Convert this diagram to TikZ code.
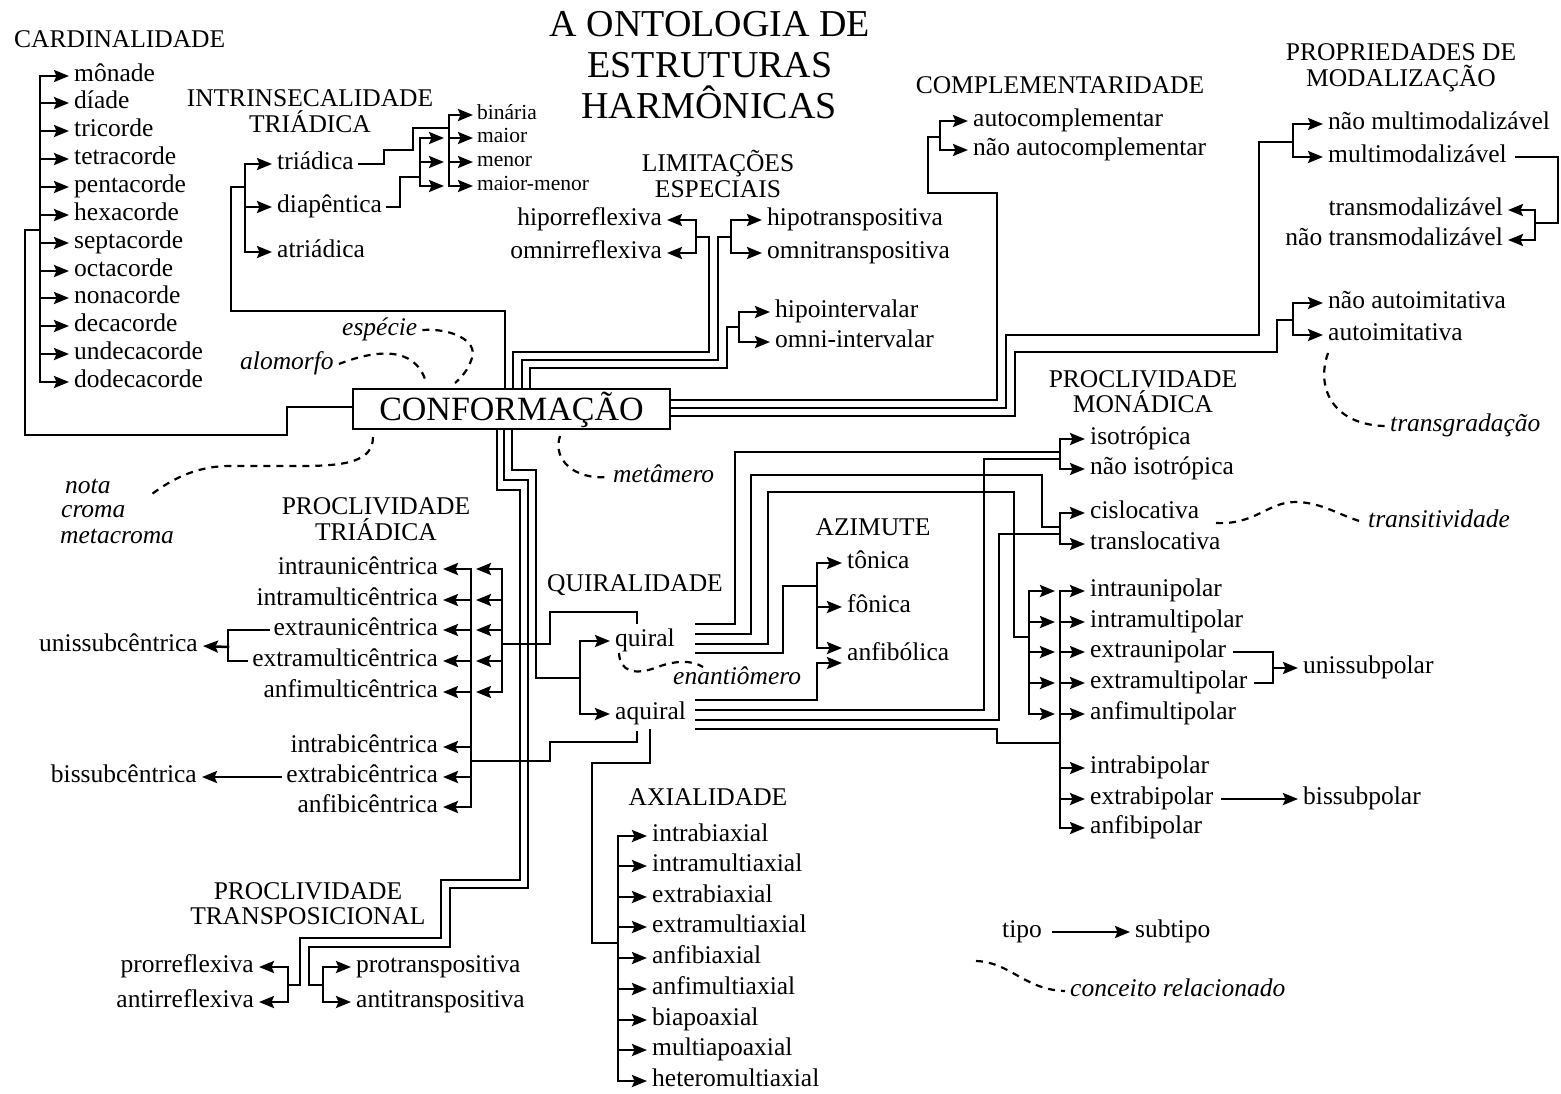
\documentclass[tikz,border=0pt]{standalone}
\usepackage{fontspec}
\setmainfont{Liberation Serif}
\usetikzlibrary{arrows.meta}
\newcommand\fbody{\fontsize{25.5}{30}\selectfont}
\newcommand\fsmal{\fontsize{21.5}{25}\selectfont}
\newcommand\fttl{\fontsize{38}{41}\selectfont}
\newcommand\fconf{\fontsize{34}{40}\selectfont}
\begin{document}
\begin{tikzpicture}[x=1pt,y=-1pt,
 ln/.style={line width=2.5pt,line cap=rect},
 arr/.style={line width=2.5pt,line cap=rect,-{Stealth[length=15pt,width=12pt,inset=2.5pt]}},
 dsh/.style={line width=2.2pt,dash pattern=on 7pt off 6pt,line cap=butt},
 lbl/.style={font=\fbody,inner xsep=5pt,inner ysep=0pt,text height=11.7pt,text depth=0pt},
 lw/.style={lbl,anchor=west},
 le/.style={lbl,anchor=east},
 sm/.style={font=\fsmal,inner xsep=4pt,inner ysep=0pt,text height=9.9pt,text depth=0pt,anchor=west},
 hdr/.style={font=\fbody,inner sep=0pt,anchor=base},
 it/.style={font=\fbody\itshape,inner xsep=5pt,inner ysep=0pt,text height=11.7pt,text depth=0pt,anchor=west},
]
\fill[white] (0,0) rectangle (1561,1093);
\useasboundingbox (0,0) rectangle (1561,1093);

% title
\node[font=\fttl,inner sep=0pt,anchor=base] (ttl1) at (710,36.6) {A ONTOLOGIA DE};
\node[font=\fttl,inner sep=0pt,anchor=base] (ttl2) at (710,77.6) {ESTRUTURAS};
\node[font=\fttl,inner sep=0pt,anchor=base] (ttl3) at (709,118.6) {HARMÔNICAS};

% central box
\node[draw,line width=2.2pt,font=\fconf,minimum width=317pt,minimum height=40pt,inner sep=0pt,text height=22pt,text depth=0pt] (conf) at (511.5,409) {CONFORMAÇÃO};

% cardinalidade
\node[hdr,anchor=base west] (hcard) at (14,47.4) {CARDINALIDADE};
\coordinate (cbar) at (40,0);
\foreach \t/\y [count=\i] in {mônade/76,díade/103,tricorde/131,tetracorde/159,pentacorde/187,hexacorde/215,septacorde/243,octacorde/271,nonacorde/298,decacorde/326,undecacorde/354,dodecacorde/382}
  \node[lw] (c\i) at (69,\y) {\t};
\draw[ln] (cbar |- c1.west) -- (cbar |- c12.west);
\foreach \i in {1,...,12} \draw[arr] (cbar |- c\i.west) -- (c\i.west);
\draw[ln] (conf.west |- 0,407) -- (287,407) |- (25,435) |- (40,230);

% intrinsecalidade
\node[hdr] (hint1) at (310,106.4) {INTRINSECALIDADE};
\node[hdr] (hint2) at (310,132.4) {TRIÁDICA};
\node[lw] (i1) at (272,164) {triádica};
\node[lw] (i2) at (272,207) {diapêntica};
\node[lw] (i3) at (272,252) {atriádica};
\coordinate (ibar) at (245,0);
\draw[ln] (ibar |- i1.west) -- (ibar |- i3.west);
\foreach \i in {1,2,3} \draw[arr] (ibar |- i\i.west) -- (i\i.west);
\draw[ln] (conf.north -| 505,0) |- (231,311) |- (245,187);
\foreach \t/\y [count=\i] in {binária/115,maior/138,menor/162,maior-menor/186}
  \node[sm] (s\i) at (473,\y) {\t};
\coordinate (sbar) at (449,0);
\coordinate (dbar) at (420,0);
\draw[ln] (sbar |- s1.west) -- (sbar |- s4.west);
\foreach \i in {1,...,4} \draw[arr] (sbar |- s\i.west) -- (s\i.west);
\draw[ln] (dbar |- s2.west) -- (dbar |- s4.west);
\foreach \i in {2,3,4} \draw[arr,shorten >=5pt] (dbar |- s\i.west) -- (sbar |- s\i.west);
\draw[ln] (i1.east) -| (384,150) -| (413,128) -- (449,128);
\draw[ln] (i2.east) -| (400,177) -- (420,177);

% limitacoes
\node[hdr] (hlim1) at (718,171.4) {LIMITAÇÕES};
\node[hdr] (hlim2) at (718,197.4) {ESPECIAIS};
\node[le] (l1) at (667,220) {hiporreflexiva};
\node[le] (l2) at (667,253) {omnirreflexiva};
\node[lw] (l3) at (762,220) {hipotranspositiva};
\node[lw] (l4) at (762,253) {omnitranspositiva};
\node[lw] (l5) at (770,312) {hipointervalar};
\node[lw] (l6) at (770,342) {omni-intervalar};
\coordinate (lbarA) at (696,0);
\coordinate (lbarB) at (731,0);
\coordinate (lbarC) at (739,0);
\draw[ln] (lbarA |- l1.east) -- (lbarA |- l2.east);
\foreach \i in {1,2} \draw[arr] (lbarA |- l\i.east) -- (l\i.east);
\draw[ln] (lbarB |- l3.west) -- (lbarB |- l4.west);
\foreach \i in {3,4} \draw[arr] (lbarB |- l\i.west) -- (l\i.west);
\draw[ln] (lbarC |- l5.west) -- (lbarC |- l6.west);
\foreach \i in {5,6} \draw[arr] (lbarC |- l\i.west) -- (l\i.west);
\draw[ln] (conf.north -| 513,0) |- (709,352) |- (696,237);
\draw[ln] (conf.north -| 522,0) |- (718,360) |- (731,237);
\draw[ln] (conf.north -| 530,0) |- (727,368) |- (739,327);

% complementaridade
\node[hdr] (hcomp) at (1060,93.4) {COMPLEMENTARIDADE};
\node[lw] (k1) at (968,121) {autocomplementar};
\node[lw] (k2) at (968,150) {não autocomplementar};
\coordinate (kbar) at (940,0);
\draw[ln] (kbar |- k1.west) -- (kbar |- k2.west);
\foreach \i in {1,2} \draw[arr] (kbar |- k\i.west) -- (k\i.west);
\draw[ln] (conf.east |- 0,400) -| (997,193) -| (928,137) -- (940,137);

% modalizacao
\node[hdr] (hprop1) at (1401,60.4) {PROPRIEDADES DE};
\node[hdr] (hprop2) at (1401,86.4) {MODALIZAÇÃO};
\node[lw] (m1) at (1323,124) {não multimodalizável};
\node[lw] (m2) at (1323,157) {multimodalizável};
\node[lw] (a1) at (1323,303) {não autoimitativa};
\node[lw] (a2) at (1323,335) {autoimitativa};
\node[le] (tm1) at (1508,210) {transmodalizável};
\node[le] (tm2) at (1508,240) {não transmodalizável};
\coordinate (mbar) at (1293,0);
\coordinate (tbar) at (1535,0);
\draw[ln] (mbar |- m1.west) -- (mbar |- m2.west);
\foreach \i in {1,2} \draw[arr] (mbar |- m\i.west) -- (m\i.west);
\draw[ln] (mbar |- a1.west) -- (mbar |- a2.west);
\foreach \i in {1,2} \draw[arr] (mbar |- a\i.west) -- (a\i.west);
\draw[ln] (tbar |- tm1.east) -- (tbar |- tm2.east);
\foreach \i in {1,2} \draw[arr] (tbar |- tm\i.east) -- (tm\i.east);
\draw[ln] (conf.east |- 0,408) -| (1006,335) -| (1259,142) -- (1293,142);
\draw[ln] (conf.east |- 0,416) -| (1015,352) -| (1277,320) -- (1293,320);
\draw[ln] ([xshift=4pt]m2.east) -| (1558,223) -- (1535,223);

% proclividade monadica
\node[hdr] (hmon1) at (1143,387.4) {PROCLIVIDADE};
\node[hdr] (hmon2) at (1143,412.4) {MONÁDICA};
\node[lw] (n1) at (1085,439) {isotrópica};
\node[lw] (n2) at (1085,469) {não isotrópica};
\node[lw] (n3) at (1085,513) {cislocativa};
\node[lw] (n4) at (1085,544) {translocativa};
\coordinate (nbar) at (1060,0);
\draw[ln] (nbar |- n1.west) -- (nbar |- n2.west);
\draw[ln] (nbar |- n3.west) -- (nbar |- n4.west);
\foreach \i in {1,...,4} \draw[arr] (nbar |- n\i.west) -- (n\i.west);

% polar
\foreach \t/\y [count=\i] in {intraunipolar/591,intramultipolar/622,extraunipolar/652,extramultipolar/683,anfimultipolar/714,intrabipolar/768,extrabipolar/799,anfibipolar/828}
  \node[lw] (p\i) at (1085,\y) {\t};
\coordinate (pbarC) at (1060,0);
\coordinate (pbarD) at (1029,0);
\draw[ln] (pbarC |- p1.west) -- (pbarC |- p8.west);
\foreach \i in {1,...,8} \draw[arr] (pbarC |- p\i.west) -- (p\i.west);
\draw[ln] (pbarD |- p1.west) -- (pbarD |- p5.west);
\foreach \i in {1,...,5} \draw[arr,shorten >=5pt] (pbarD |- p\i.west) -- (pbarC |- p\i.west);
\node[lw] (u2) at (1298,668) {unissubpolar};
\node[lw] (b2) at (1298,799) {bissubpolar};
\draw[ln] ([xshift=3pt]p3.east) -| (1273,668) |- ([xshift=3pt]p4.east);
\draw[arr] (1273,668) -- (u2.west);
\draw[arr] ([xshift=4pt]p7.east) -- (b2.west);

% azimute
\node[hdr] (hazi) at (873,535.4) {AZIMUTE};
\node[lw] (z1) at (842,563) {tônica};
\node[lw] (z2) at (842,607) {fônica};
\node[lw] (z3) at (842,655) {anfibólica};
\coordinate (zbar) at (817,0);
\draw[ln] (zbar |- z1.west) -- (817,648);
\draw[arr] (zbar |- z1.west) -- (z1.west);
\draw[arr] (zbar |- z2.west) -- (z2.west);
\draw[arr] (817,648) -- (z3.west |- 0,648);

% quiralidade
\node[hdr] (hqui) at (635,591.4) {QUIRALIDADE};
\node[lw] (q1) at (610,641) {quiral};
\node[lw] (q2) at (610,714) {aquiral};
\coordinate (qbar) at (580,0);
\draw[ln] (qbar |- q1.west) -- (qbar |- q2.west);
\foreach \i in {1,2} \draw[arr] (qbar |- q\i.west) -- (q\i.west);
\draw[ln] (conf.south -| 512,0) |- (536,470) |- (580,678);
\draw[ln] (conf.south -| 504,0) |- (528,480) |- (450,888) |- (309,947) |- (323,985);
\draw[ln] (conf.south -| 497,0) |- (520,490) |- (441,880) |- (300,938) |- (288,985);

% lines leaving quiral / aquiral
\draw[ln] (696,624) -| (735,452) -- (1060,452);
\draw[ln] (696,634) -| (751,475) -| (1042,527) -- (1060,527);
\draw[ln] (696,644) -| (768,492) -| (1014,637) -- (1029,637);
\draw[ln] (696,653) -| (783,586) -- (817,586);
\draw[arr] (696,700) -| (817,663) -- (z3.west |- 0,663);
\draw[ln] (696,710) -| (984,459) -- (1060,459);
\draw[ln] (696,720) -| (999,534) -- (1060,534);
\draw[ln] (696,729) -| (997,743) -- (1060,743);

% proclividade triadica
\node[hdr] (htri1) at (376,514.4) {PROCLIVIDADE};
\node[hdr] (htri2) at (376,540.4) {TRIÁDICA};
\foreach \t/\y [count=\i] in {intraunicêntrica/569,intramulticêntrica/600,extraunicêntrica/630,extramulticêntrica/661,anfimulticêntrica/692,intrabicêntrica/747,extrabicêntrica/777,anfibicêntrica/807}
  \node[le] (e\i) at (443,\y) {\t};
\coordinate (ebarA) at (471,0);
\coordinate (ebarB) at (502,0);
\draw[ln] (ebarA |- e1.east) -- (ebarA |- e8.east);
\foreach \i in {1,...,8} \draw[arr] (ebarA |- e\i.east) -- (e\i.east);
\draw[ln] (ebarB |- e1.east) -- (ebarB |- e5.east);
\foreach \i in {1,...,5} \draw[arr,shorten >=5pt] (ebarB |- e\i.east) -- (ebarA |- e\i.east);
\draw[ln] (637,623) |- (550,612) |- (502,644);
\draw[ln] (637,732) |- (550,742) |- (471,761);
\node[le] (u1) at (203,646) {unissubcêntrica};
\node[le] (b1) at (202,777) {bissubcêntrica};
\draw[ln] (e3.west) -| (228,647) |- (e4.west);
\draw[arr] (228,647) -- (u1.east);
\draw[arr] (e7.west) -- (b1.east);

% axialidade
\node[hdr] (haxi) at (708,805.4) {AXIALIDADE};
\foreach \t/\y [count=\i] in {intrabiaxial/836,intramultiaxial/866,extrabiaxial/897,extramultiaxial/927,anfibiaxial/958,anfimultiaxial/989,biapoaxial/1020,multiapoaxial/1050,heteromultiaxial/1081}
  \node[lw] (x\i) at (647,\y) {\t};
\coordinate (xbar) at (618,0);
\draw[ln] (xbar |- x1.west) -- (xbar |- x9.west);
\foreach \i in {1,...,9} \draw[arr] (xbar |- x\i.west) -- (x\i.west);
\draw[ln] (650,730) |- (592,763) |- (618,943);

% proclividade transposicional
\node[hdr] (htr1) at (308,899.4) {PROCLIVIDADE};
\node[hdr] (htr2) at (308,924.4) {TRANSPOSICIONAL};
\node[le] (r1) at (259,967) {prorreflexiva};
\node[le] (r2) at (259,1002) {antirreflexiva};
\node[lw] (r3) at (351,967) {protranspositiva};
\node[lw] (r4) at (351,1002) {antitranspositiva};
\coordinate (rbarA) at (288,0);
\coordinate (rbarB) at (323,0);
\draw[ln] (rbarA |- r1.east) -- (rbarA |- r2.east);
\foreach \i in {1,2} \draw[arr] (rbarA |- r\i.east) -- (r\i.east);
\draw[ln] (rbarB |- r3.west) -- (rbarB |- r4.west);
\foreach \i in {3,4} \draw[arr] (rbarB |- r\i.west) -- (r\i.west);

% related concepts (dashed)
\node[it] (esp) at (337,330) {espécie};
\draw[dsh] (esp.east) .. controls (450,328) and (478,340) .. (472,358) .. controls (468,370) and (462,377) .. (455,383);
\node[it] (alo) at (235,364) {alomorfo};
\draw[dsh] (alo.east) .. controls (375,350) and (415,345) .. (426,382);
\node[it] (nota) at (60,488) {nota};
\node[it] (croma) at (56,512) {croma};
\node[it] (metac) at (55,538) {metacroma};
\draw[dsh] (373,437) .. controls (373,462) and (345,466) .. (300,466) -- (230,466) .. controls (195,466) and (170,480) .. (148,497);
\node[it] (metam) at (608,477) {metâmero};
\draw[dsh] (560,436) .. controls (552,460) and (575,480) .. (metam.west);
\node[it] (enan) at (668,679) {enantiômero};
\draw[dsh] (619,653) .. controls (620,672) and (635,675) .. (655,668) .. controls (675,660) and (692,660) .. (703,667);
\node[it] (trv) at (1363,522) {transitividade};
\draw[dsh] (1216,523) .. controls (1255,525) and (1268,502) .. (1295,502) .. controls (1322,502) and (1340,516) .. (trv.west);
\node[it] (trg) at (1385,426) {transgradação};
\draw[dsh] (1328,353) .. controls (1315,390) and (1335,425) .. (trg.west);

% legend
\node[lw] (tipo) at (997,932) {tipo};
\node[lw] (subt) at (1130,932) {subtipo};
\draw[arr,shorten <=6pt] (tipo.east) -- (subt.west);
\node[it] (conc) at (1065,991) {conceito relacionado};
\draw[dsh] (976,961) .. controls (1010,962) and (1025,990) .. (conc.west);
\end{tikzpicture}
\end{document}
